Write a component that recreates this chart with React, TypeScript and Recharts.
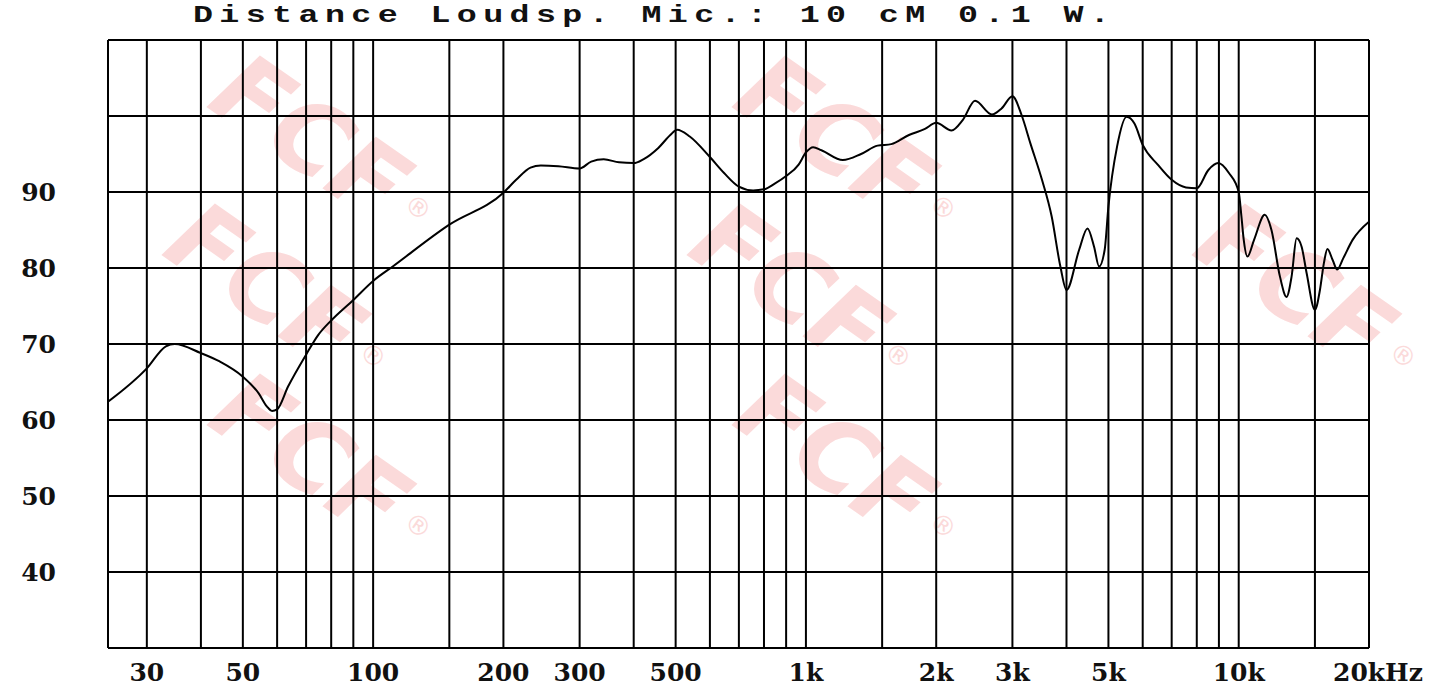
import { LineChart, Line, XAxis, YAxis, CartesianGrid } from 'recharts'

// frequency response (Hz / dB SPL)
const freqs = [
  24.4, 30, 33.2, 34.8, 40, 44.2, 50, 54.4, 56.8, 58.4, 60, 63.6, 70, 74.7, 80, 90, 100, 111, 150, 200,
  214, 231, 244, 268, 300, 319, 341, 370, 400, 421, 456, 486, 504, 539, 600, 647, 700, 755, 800, 847,
  900, 962, 1000, 1039, 1086, 1217, 1341, 1464, 1575, 1730, 1884, 2000, 2170, 2305, 2459, 2689, 2832, 3000, 3151, 3301,
  3511, 3696, 3872, 4000, 4279, 4472, 4632, 4757, 4901, 5000, 5236, 5508, 5742, 6000, 6500, 7000, 7555, 8000, 8510, 8960,
  9492, 10000, 10145, 10271, 10475, 10851, 11487, 11903, 12450, 12898, 13250, 13607, 13975, 14354, 15000, 15405, 15729, 16030, 16483, 16887,
  17446, 18329, 20000,
]
const spl = [
  62.4, 66.8, 69.7, 70.0, 68.8, 67.7, 65.7, 63.5, 61.8, 61.2, 61.4, 64.4, 68.6, 71.2, 73.1, 75.8, 78.3, 80.2, 85.7, 89.9,
  91.6, 93.2, 93.5, 93.4, 93.1, 94.0, 94.3, 93.9, 93.8, 94.3, 95.8, 97.5, 98.2, 97.3, 94.6, 92.5, 90.7, 90.2, 90.35, 91.1,
  92.1, 93.6, 95.2, 95.9, 95.5, 94.2, 95.0, 96.1, 96.3, 97.5, 98.3, 99.1, 98.1, 99.5, 102.0, 100.2, 101.0, 102.6, 100.1, 96.4,
  91.6, 86.8, 80.2, 77.1, 82.4, 85.2, 82.8, 80.2, 82.4, 88.1, 96.0, 99.9, 99.0, 96.2, 93.6, 91.6, 90.6, 90.5, 92.9, 93.8,
  92.5, 90.0, 86.8, 83.7, 81.5, 83.7, 87.0, 85.0, 78.9, 76.2, 78.9, 83.9, 82.8, 79.3, 74.5, 77.1, 80.6, 82.5, 81.05, 79.8,
  81.3, 83.7, 86.1,
]

const gridFreqs = [
  30, 40, 50, 60, 70, 80, 90, 100, 150, 200, 300, 400, 500, 600, 700, 800, 900,
  1000, 1500, 2000, 3000, 4000, 5000, 6000, 7000, 8000, 9000, 10000, 15000, 20000,
]
const labelFreqs = [30, 50, 100, 200, 300, 500, 1000, 2000, 3000, 5000, 10000, 20000]
const labelTexts = ['30', '50', '100', '200', '300', '500', '1k', '2k', '3k', '5k', '10k', '20kHz']
const dbTicks = [30, 40, 50, 60, 70, 80, 90, 100, 110]
const dbLabels = [40, 50, 60, 70, 80, 90]

const title = 'Distance Loudsp. Mic.: 10 cM 0.1 W.'

const data = freqs.map((f, i) => ({ f, db: spl[i] }))

const tickFont = { fontFamily: 'DejaVu Serif', fontWeight: 'bold' as const, fontSize: 25, fill: '#111' }

function FreqTick({ x, payload }: any) {
  const i = labelFreqs.indexOf(payload.value)
  if (i < 0) return <g />
  const last = payload.value === 20000
  return (
    <text x={last ? x - 36 : x} y={672} textAnchor={last ? 'start' : 'middle'} dominantBaseline="central" {...tickFont}>
      {labelTexts[i]}
    </text>
  )
}

function DbTick({ y, payload }: any) {
  if (!dbLabels.includes(payload.value)) return <g />
  return (
    <text x={56} y={y} textAnchor="end" dominantBaseline="central" {...tickFont}>
      {payload.value}
    </text>
  )
}

// faint FCF watermark behind the plot (only the copies that fit the frame)
const markSpots = [
  { x: 385, y: 232 }, { x: 910, y: 232 },
  { x: 340, y: 380 }, { x: 865, y: 380 }, { x: 1370, y: 380 },
  { x: 385, y: 550 }, { x: 910, y: 550 },
]

function Watermark() {
  return (
    <svg width={1437} height={694} style={{ position: 'absolute', left: 0, top: 0 }}>
      {markSpots.map((m, i) => (
        <g key={i} transform={`rotate(35 ${m.x} ${m.y})`}>
          <text x={m.x - 10} y={m.y} textAnchor="end" fontFamily="DejaVu Sans" fontWeight="bold" fontStyle="italic" fontSize={100} fill="#fbdada">
            FCF
          </text>
          <text x={m.x} y={m.y - 30} fontFamily="DejaVu Sans" fontSize={26} fill="#fbdada">®</text>
        </g>
      ))}
    </svg>
  )
}

export default function App() {
  return (
    <div style={{ position: 'absolute', left: 0, top: 0, width: 1437, height: 694, background: '#fff', overflow: 'hidden' }}>
      <Watermark />
      <div style={{ position: 'absolute', left: 0, top: 0 }}>
        <LineChart width={1437} height={694} data={data} margin={{ top: 40, right: 68, bottom: 0, left: 0 }}>
          <CartesianGrid stroke="#000" strokeWidth={2} />
          <XAxis
            dataKey="f"
            type="number"
            scale="log"
            domain={[24.4, 20000]}
            allowDataOverflow
            ticks={gridFreqs}
            interval={0}
            height={46}
            tickLine={false}
            tickSize={0}
            axisLine={{ stroke: '#000', strokeWidth: 2 }}
            tick={<FreqTick />}
          />
          <YAxis
            type="number"
            domain={[30, 110]}
            allowDataOverflow
            ticks={dbTicks}
            interval={0}
            width={108}
            tickLine={false}
            tickSize={0}
            axisLine={{ stroke: '#000', strokeWidth: 2 }}
            tick={<DbTick />}
          />
          <Line type="monotone" dataKey="db" stroke="#000" strokeWidth={2} dot={false} isAnimationActive={false} />
        </LineChart>
      </div>
      <svg width={1437} height={40} style={{ position: 'absolute', left: 0, top: 0, pointerEvents: 'none' }}>
        <text
          transform="scale(1.45,1)"
          x={193 / 1.45}
          y={22}
          fontFamily="Liberation Mono"
          fontWeight="bold"
          fontSize={23}
          letterSpacing={4.4}
          fill="#111"
        >
          {title}
        </text>
      </svg>
    </div>
  )
}
